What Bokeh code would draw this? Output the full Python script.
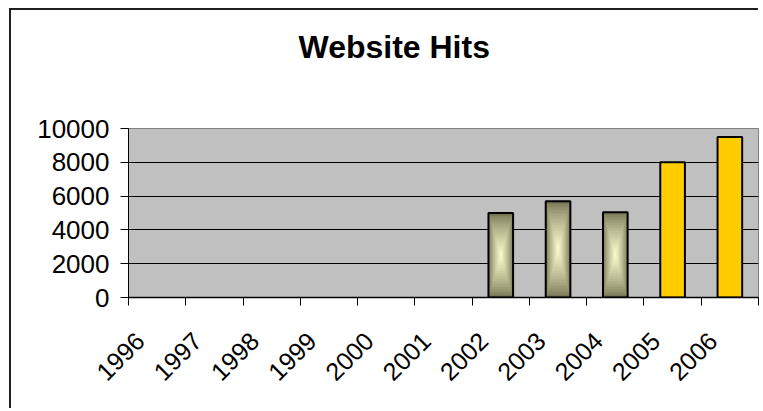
import math
from bokeh.plotting import figure
from bokeh.models import FixedTicker, Range1d, Title
from bokeh.embed import file_html
from bokeh.resources import INLINE

# ---- data ----
years = ["1996", "1997", "1998", "1999", "2000", "2001",
         "2002", "2003", "2004", "2005", "2006"]
hits = [0, 0, 0, 0, 0, 0, 5000, 5700, 5050, 8000, 9500]
gradient_years = ["2002", "2003", "2004"]
solid_years = ["2005", "2006"]
y_ticks = [0, 2000, 4000, 6000, 8000, 10000]
grid_ticks = [2000, 4000, 6000, 8000]
title_text = "Website Hits"

# ---- layout constants ----
LAB = 0.30          # label shift (category units) to the left of centre
BAR_W = 0.43
FONT = "Liberation Sans"
MB_L, MB_T, MB_R, MB_B = 117, 118, 2, 113
FW, FH = 630, 169

x0 = -0.5 + LAB
p = figure(width=MB_L + FW + MB_R, height=MB_T + FH + MB_B,
           output_backend="svg", toolbar_location=None,
           x_range=Range1d(x0, x0 + len(years)), y_range=Range1d(0, 10000),
           min_border_left=MB_L, min_border_right=MB_R,
           min_border_top=MB_T, min_border_bottom=MB_B,
           styles={"margin-left": "11px", "margin-top": "10px",
                   "box-shadow": "-2px -2px 0px 0px #202020"})
p.background_fill_color = "#C0C0C0"
p.border_fill_color = "white"
p.outline_line_color = "#808080"
p.outline_line_width = 1

# spacer between frame and title, then the title itself (stacked outward)
p.add_layout(Title(text=" ", text_font_size="20px", standoff=40,
                   text_color="white"), "above")
p.add_layout(Title(text=title_text, align="left", offset=170,
                   text_font=FONT, text_font_size="32px",
                   text_font_style="bold", text_color="black",
                   standoff=0), "above")

# bars
centers = [i + LAB for i in range(len(years))]
def idx(y):
    return years.index(y)

# gradient bars: concentric rectangles from edge colour to centre colour
outer = (0x78, 0x78, 0x58)
inner = (0xFF, 0xFF, 0xD0)
steps = 16
gx = [centers[idx(y)] for y in gradient_years]
gv = [hits[idx(y)] for y in gradient_years]
for k in range(steps):
    t = k / steps
    s = t ** 0.8
    col = "#%02x%02x%02x" % tuple(int(round(o + (i_ - o) * s)) for o, i_ in zip(outer, inner))
    p.vbar(x=gx, width=BAR_W * (1 - t), bottom=[v * t / 2 for v in gv],
           top=[v * (1 - t / 2) for v in gv], fill_color=col, line_color=None)
p.vbar(x=gx, width=BAR_W, bottom=0, top=gv, fill_color=None,
       line_color="black", line_width=2)

sx = [centers[idx(y)] for y in solid_years]
sv = [hits[idx(y)] for y in solid_years]
p.vbar(x=sx, width=BAR_W, bottom=0, top=sv, fill_color="#FFCC00",
       line_color="black", line_width=2)

# x axis
xa = p.xaxis[0]
xa.ticker = FixedTicker(ticks=list(range(len(years))),
                        minor_ticks=[x0 + i for i in range(len(years) + 1)])
xa.major_label_overrides = {i: y for i, y in enumerate(years)}
xa.major_label_orientation = math.pi / 4
xa.major_label_text_font = FONT
xa.major_label_text_font_size = "25px"
xa.major_label_text_color = "black"
xa.major_label_standoff = 31
xa.major_tick_out = 0
xa.major_tick_in = 0
xa.minor_tick_out = 8
xa.minor_tick_in = 0
xa.minor_tick_line_color = "black"
xa.axis_line_color = "black"
xa.axis_line_width = 1.5

# y axis
ya = p.yaxis[0]
ya.ticker = FixedTicker(ticks=y_ticks)
ya.major_label_text_font = FONT
ya.major_label_text_font_size = "26px"
ya.major_label_text_color = "black"
ya.major_label_standoff = 11
ya.major_tick_out = 8
ya.major_tick_in = 0
ya.major_tick_line_color = "black"
ya.axis_line_color = "black"
ya.minor_tick_line_color = None

p.xgrid.visible = False
p.ygrid.ticker = FixedTicker(ticks=grid_ticks)
p.ygrid.grid_line_color = "black"
p.ygrid.grid_line_width = 1

open("out.html", "w").write(file_html(p, INLINE))
